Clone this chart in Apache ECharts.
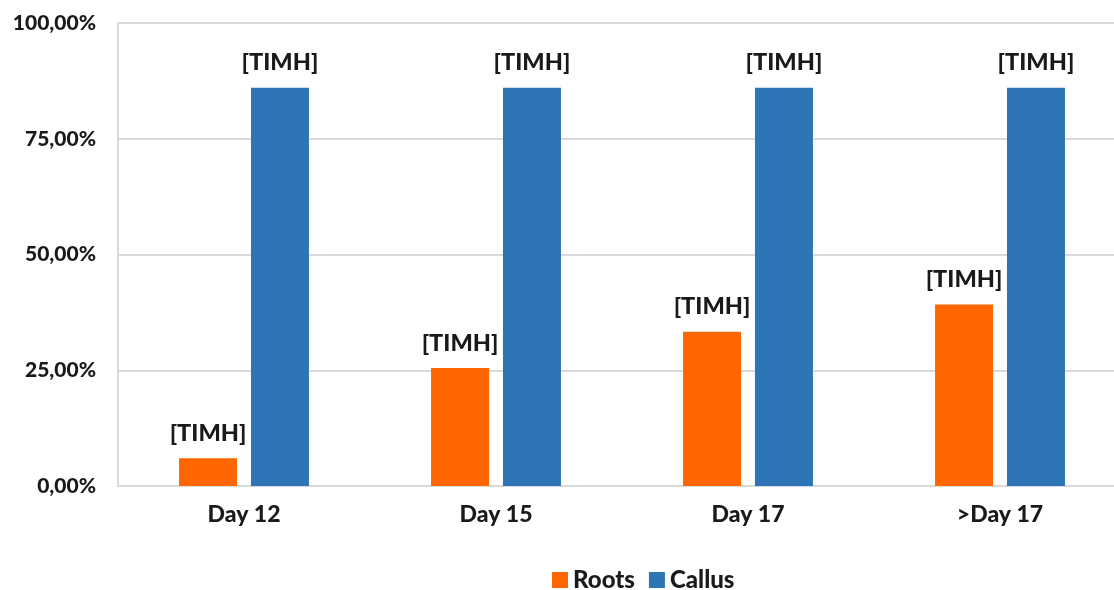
<!DOCTYPE html>
<html><head><meta charset="utf-8">
<script src="https://cdn.jsdelivr.net/npm/echarts@6/dist/echarts.min.js"></script>
<style>html,body{margin:0;padding:0;background:#fff}#c{width:1114px;height:590px}</style>
</head><body><div id="c"></div>
<script>
const categories = ['Day 12', 'Day 15', 'Day 17', '>Day 17'];
const roots = [0.06, 0.255, 0.333, 0.392];
const callus = [0.86, 0.86, 0.86, 0.86];
const labelText = '[TIMH]';
const FONT = 'Lato';
const W = 900;
const chart = echarts.init(document.getElementById('c'));
const lbl = {show: true, position: 'top', distance: 13, formatter: () => labelText,
  color: '#1a1a1a', fontWeight: W, fontSize: 23.5, fontFamily: FONT};
chart.setOption({
  animation: false,
  grid: {left: 118, top: 23, width: 1008, height: 463, outerBoundsMode: 'none', containLabel: false},
  legend: {left: 547, top: 563, itemWidth: 16, itemHeight: 16, itemGap: 14,
    icon: 'rect', textStyle: {fontWeight: W, fontSize: 24, fontFamily: FONT, color: '#1a1a1a'},
    data: ['Roots', 'Callus']},
  xAxis: {type: 'category', data: categories,
    axisLine: {lineStyle: {color: '#d9d9d9', width: 2}}, axisTick: {show: false},
    axisLabel: {margin: 17, fontWeight: W, fontSize: 23, fontFamily: FONT, color: '#1a1a1a'}},
  yAxis: {type: 'value', min: 0, max: 1, interval: 0.25,
    axisLine: {show: true, lineStyle: {color: '#d9d9d9', width: 2}}, axisTick: {show: false},
    splitLine: {lineStyle: {color: '#d9d9d9', width: 2}},
    axisLabel: {margin: 22, fontWeight: W, fontSize: 21, fontFamily: FONT, color: '#1a1a1a',
      formatter: v => (v * 100).toFixed(2).replace('.', ',') + '%'}},
  series: [
    {name: 'Roots', type: 'bar', data: roots, barWidth: 58, barGap: '24%',
      itemStyle: {color: '#ff6600'}, label: lbl},
    {name: 'Callus', type: 'bar', data: callus, barWidth: 58,
      itemStyle: {color: '#2e75b6'}, label: lbl}
  ]
});
</script></body></html>
